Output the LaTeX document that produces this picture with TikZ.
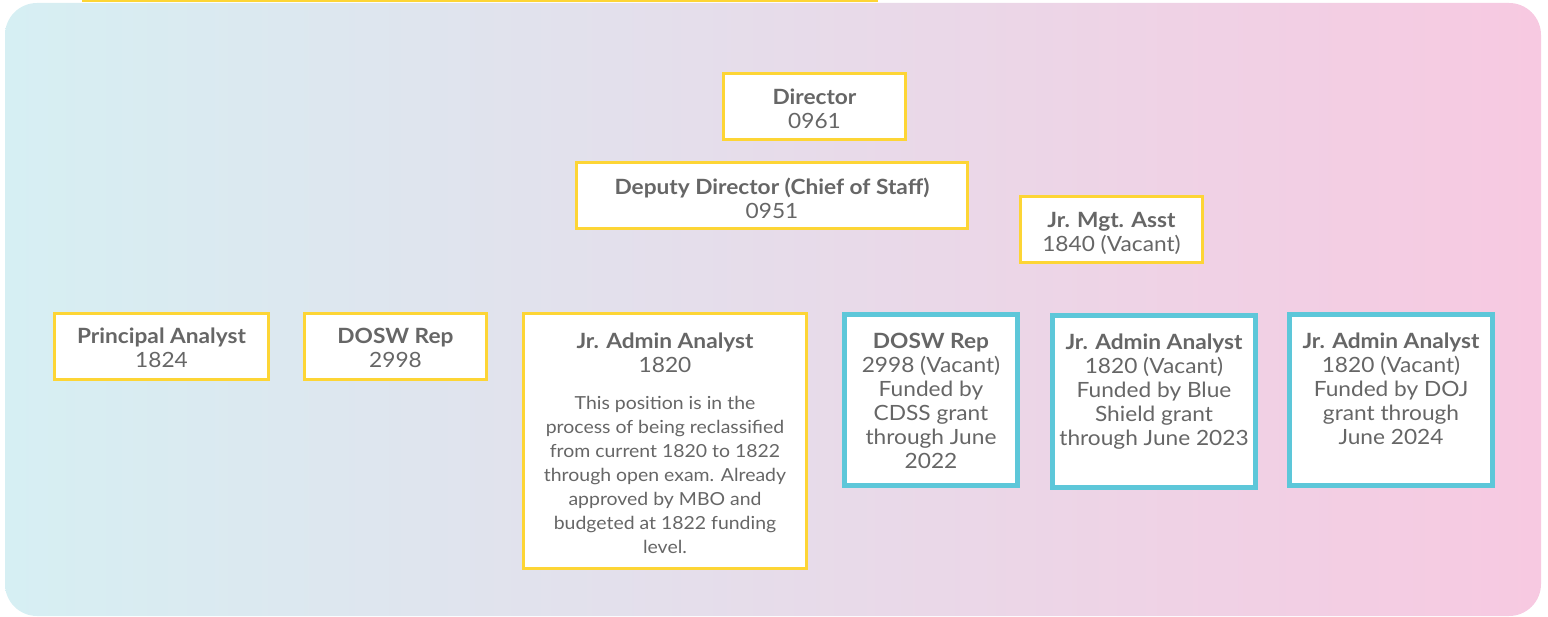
\documentclass[tikz,border=0pt]{standalone}
\usepackage{fontspec}
\setmainfont{Lato}[FakeStretch=1.08]
\usetikzlibrary{positioning}
\definecolor{postyellow}{HTML}{FDD535}
\definecolor{grantblue}{HTML}{5DC7D9}
\definecolor{txtgray}{HTML}{666666}
\definecolor{bgleft}{HTML}{D6EFF3}
\definecolor{bgright}{HTML}{F7C9E1}

\begin{document}
\begin{tikzpicture}[x=1pt, y=-1pt]
\tikzstyle{post} = [rectangle, draw=postyellow, line width=3pt, fill=white, minimum height=66pt]
\tikzstyle{grant} = [post, draw=grantblue, line width=5pt]
\tikzstyle{info} = [text=txtgray, align=center, inner sep=0pt, font=\fontsize{21}{24}\selectfont]
\tikzstyle{note} = [info, font=\fontsize{18}{24}\selectfont]

\useasboundingbox (0,0) rectangle (1548,617);
\shade[left color=bgleft, right color=bgright, rounded corners=32pt] (5,3) rectangle (1541,616);
\draw[postyellow, line width=3pt] (82,1) -- (878,1);

% top of the chart
\node (dir) [post, minimum width=182pt] at (814.5,106.5) {};
\node (dirt) [info, below=17pt of dir.north] {\textbf{Director}\\0961};
\node (dep) [post, minimum width=391pt] at (772,195.5) {};
\node (dept) [info, below=17pt of dep.north] {\textbf{Deputy Director (Chief of Staff)}\\0951};
\node (mgt) [post, minimum width=182pt] at (1111.5,229.5) {};
\node (mgtt) [info, below=17pt of mgt.north] {\textbf{Jr. Mgt. Asst}\\1840 (Vacant)};

% staff row
\node (pa) [post, minimum width=214pt] at (161.5,346.5) {};
\node (pat) [info, below=16pt of pa.north] {\textbf{Principal Analyst}\\1824};
\node (rep) [post, minimum width=182pt] at (395.5,346.5) {};
\node (rept) [info, below=16pt of rep.north] {\textbf{DOSW Rep}\\2998};

\node (jaa) [post, minimum width=283pt, minimum height=255pt] at (665,441) {};
\node (jaat) [info, below=21pt of jaa.north] {\textbf{Jr. Admin Analyst}\\1820};
\node (jaan) [note, below=23pt of jaat] {This position is in the\\process of being reclassified\\from current 1820 to 1822\\through open exam. Already\\approved by MBO and\\budgeted at 1822 funding\\level.};

% grant funded positions
\node (cdss) [grant, minimum width=173pt, minimum height=171pt] at (931,400) {};
\node (cdsst) [info, below=21pt of cdss.north] {\textbf{DOSW Rep}\\2998 (Vacant)\\Funded by\\CDSS grant\\through June\\2022};
\node (blue) [grant, minimum width=203pt, minimum height=172pt] at (1154,401.5) {};
\node (bluet) [info, below=21pt of blue.north] {\textbf{Jr. Admin Analyst}\\1820 (Vacant)\\Funded by Blue\\Shield grant\\through June 2023};
\node (doj) [grant, minimum width=203pt, minimum height=171pt] at (1391,400) {};
\node (dojt) [info, below=21pt of doj.north] {\textbf{Jr. Admin Analyst}\\1820 (Vacant)\\Funded by DOJ\\grant through\\June 2024};

\end{tikzpicture}
\end{document}
